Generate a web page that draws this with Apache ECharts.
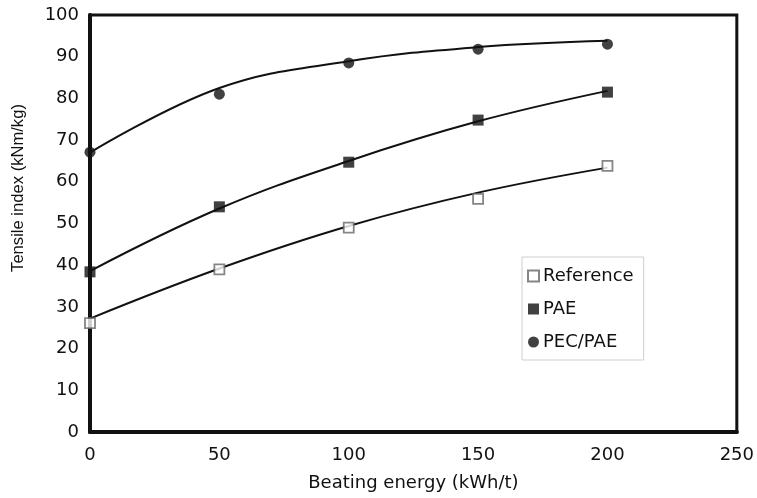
<!DOCTYPE html>
<html>
<head>
<meta charset="utf-8">
<script src="https://cdn.jsdelivr.net/npm/echarts@6/dist/echarts.min.js"></script>
<style>
  html, body { margin: 0; padding: 0; background: #fff; }
  #chart { width: 757px; height: 498px; }
</style>
</head>
<body>
<div id="chart"></div>
<script>
const energy = [0, 50, 100, 150, 200]

// measured points
const referencePts = [26.1, 39, 49, 55.9, 63.8]
const paePts = [38.4, 54, 64.7, 74.8, 81.5]
const pecPaePts = [67.1, 81, 88.5, 91.8, 93]

// trend curves
const referenceFit = [27.2, 39.2, 49.4, 57.4, 63.4]
const paeFit = [38.6, 53.6, 65, 74.5, 81.8]
const pecPaeFit = [67, 82.5, 88.9, 92.3, 93.8]

const xTicks = { min: 0, max: 250, interval: 50 }
const yTicks = { min: 0, max: 100, interval: 10 }

// the original is stretched sideways, so a wider face fits the flat text
const wideFont = 'DejaVu Sans, Verdana, sans-serif'
const narrowFont = 'Liberation Sans, Arial, sans-serif'

function pairs(vals) {
  return vals.map((v, i) => [energy[i], v])
}

function fitLine(name, vals) {
  return {
    name,
    type: 'line',
    smooth: 0.4,
    symbol: 'none',
    data: pairs(vals),
    lineStyle: { color: '#111', width: 2 },
    z: 2,
    silent: true
  }
}

const chart = echarts.init(document.getElementById('chart'))
chart.setOption({
  animation: false,
  textStyle: { fontFamily: wideFont },
  grid: {
    left: 90,
    right: 18,
    top: 15,
    bottom: 66,
    show: true,
    borderColor: '#111',
    borderWidth: 3
  },
  legend: {
    orient: 'vertical',
    left: 522,
    top: 257,
    data: ['Reference', 'PAE', 'PEC/PAE'],
    itemWidth: 11,
    itemHeight: 11,
    itemGap: 15,
    padding: [10, 10, 9, 5],
    borderColor: '#cfcfcf',
    borderWidth: 1,
    backgroundColor: '#fff',
    textStyle: { fontSize: 18, color: '#111', fontFamily: wideFont, padding: [0, 0, 0, -1] }
  },
  graphic: [{
    type: 'text',
    x: 18,
    y: 188,
    rotation: Math.PI / 2,
    style: {
      text: 'Tensile index (kNm/kg)',
      fontSize: 16.6,
      fontFamily: narrowFont,
      fill: '#111',
      align: 'center',
      verticalAlign: 'middle'
    }
  }],
  xAxis: {
    type: 'value',
    ...xTicks,
    name: 'Beating energy (kWh/t)',
    nameLocation: 'middle',
    nameGap: 42,
    nameTextStyle: { fontSize: 18, color: '#111' },
    axisLine: { show: true, lineStyle: { color: '#111', width: 4 } },
    axisTick: { show: false },
    splitLine: { show: false },
    axisLabel: { fontSize: 18, color: '#111', margin: 14 }
  },
  yAxis: {
    type: 'value',
    ...yTicks,
    axisLine: { show: true, lineStyle: { color: '#111', width: 4 } },
    axisTick: { show: false },
    splitLine: { show: false },
    axisLabel: { fontSize: 18, color: '#111', margin: 11 }
  },
  series: [
    fitLine('Reference fit', referenceFit),
    fitLine('PAE fit', paeFit),
    fitLine('PEC/PAE fit', pecPaeFit),
    {
      name: 'Reference',
      type: 'scatter',
      symbol: 'rect',
      symbolSize: 10,
      data: pairs(referencePts),
      itemStyle: { color: '#fff', borderColor: '#666', borderWidth: 1.8 },
      z: 3
    },
    {
      name: 'PAE',
      type: 'scatter',
      symbol: 'rect',
      symbolSize: 11,
      data: pairs(paePts),
      itemStyle: { color: '#111' },
      z: 3
    },
    {
      name: 'PEC/PAE',
      type: 'scatter',
      symbol: 'circle',
      symbolSize: 11,
      data: pairs(pecPaePts),
      itemStyle: { color: '#111' },
      z: 3
    }
  ]
})
</script>
</body>
</html>
